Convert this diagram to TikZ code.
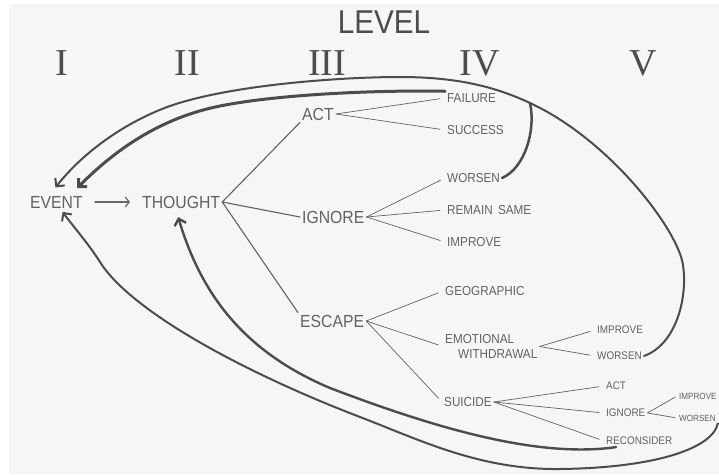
\documentclass[tikz,border=0pt]{standalone}
\usepackage{fontspec}
\setmainfont[FakeStretch=0.9]{Liberation Sans}
\newfontfamily\romanfont{Liberation Serif}
\usetikzlibrary{arrows.meta}
\definecolor{paper}{HTML}{F6F6F6}
\definecolor{ink}{HTML}{626262}
\definecolor{pencil}{HTML}{4C4C4C}

\begin{document}
\begin{tikzpicture}[x=1pt,y=-1pt,line cap=round,line join=round,
  lbl/.style={inner sep=2pt,anchor=west,text=ink},
  big/.style={lbl,font=\fontsize{17.5}{19}\selectfont},
  mid/.style={lbl,font=\fontsize{13}{15}\selectfont},
  sml/.style={lbl,font=\fontsize{11}{13}\selectfont},
  vsml/.style={lbl,font=\fontsize{9}{10}\selectfont},
  numeral/.style={text=pencil,font=\romanfont\fontsize{38}{40}\selectfont,anchor=base},
  stem/.style={draw=ink,line width=1.1pt},
  branch/.style={draw=ink,line width=0.7pt,shorten >=5pt},
  loopback/.style={draw=pencil,line width=2pt,-{Straight Barb[length=6pt,width=12pt]}}]
\useasboundingbox (0,0) rectangle (719,474);
\fill[paper] (9,4) rectangle (719,474);

\node[text=pencil,font=\fontsize{33}{36}\selectfont,anchor=base] (level) at (384,33) {LEVEL};
\foreach \n/\x in {I/62,II/187,III/327,IV/480,V/643}
  \node[numeral] (lv\n) at (\x,75) {\n};

% level I - III
\node[big] (event) at (28,202) {EVENT};
\node[big] (thought) at (140,202) {THOUGHT};
\node[big] (act) at (300,114) {ACT};
\node[big] (ignore) at (300,217) {IGNORE};
\node[big] (escape) at (298,321) {ESCAPE};

% level IV
\node[mid] (failure) at (445,98) {FAILURE};
\node[mid] (success) at (445,130) {SUCCESS};
\node[mid] (worsen) at (445,178) {WORSEN};
\node[mid] (same) at (445,210) {REMAIN\, SAME};
\node[mid] (improve) at (445,242) {IMPROVE};
\node[mid] (geo) at (443,291) {GEOGRAPHIC};
\node[mid,align=left] (emo) at (443,346.5) {EMOTIONAL\\\hspace*{13pt}WITHDRAWAL};
\node[mid] (suicide) at (442,402) {SUICIDE};

% level V
\node[sml] (ewimprove) at (595,330) {IMPROVE};
\node[sml] (ewworsen) at (595,356) {WORSEN};
\node[sml] (sact) at (604,386) {ACT};
\node[sml] (signore) at (604,413) {IGNORE};
\node[sml] (reconsider) at (604,441) {RECONSIDER};
\node[vsml] (simprove) at (677,396) {IMPROVE};
\node[vsml] (sworsen) at (677,418) {WORSEN};

\draw[pencil!85,line width=1.2pt,-{Straight Barb[length=4pt,width=10pt]},shorten <=10pt,shorten >=10pt] (event) -- (thought);

\draw[stem] (thought.east) -- (act.south west);
\draw[stem] (thought.east) -- (ignore.west);
\draw[stem] (thought.east) -- (escape.north west);
\foreach \b in {failure,success}
  \draw[branch] (act.east) -- (\b.west);
\foreach \b in {worsen,same,improve}
  \draw[branch] (ignore.east) -- (\b.west);
\foreach \b in {geo,emo,suicide}
  \draw[branch] (escape.east) -- (\b.west);
\foreach \b in {ewimprove,ewworsen}
  \draw[branch] (emo.east) -- (\b.west);
\foreach \b in {sact,signore,reconsider}
  \draw[branch] (suicide.east) -- (\b.west);
\foreach \b in {simprove,sworsen}
  \draw[branch,shorten >=2pt] (signore.east) -- (\b.west);

% loops back to the start
\coordinate (merge) at (530,103);
\draw[loopback,shorten >=8pt] (ewworsen.east) .. controls (675,345) and (688,300) .. (683,265)
  .. controls (678,230) and (610,140) .. (merge)
  .. controls (498,88) and (460,77) .. (400,77)
  .. controls (340,77) and (230,85) .. (170,106)
  .. controls (128,121) and (85,150) .. ([xshift=-6pt]event.north);
\draw[pencil,line width=2.5pt] (worsen.east) .. controls (525,168) and (536,130) .. (merge);
\draw[loopback,line width=3pt,shorten >=8pt] (failure.north west) .. controls (380,90) and (280,94) .. (220,106)
  .. controls (160,118) and (115,150) .. ([xshift=15pt]event.north);
\draw[loopback,line width=2.4pt,shorten >=7pt] ([xshift=12pt]reconsider.south west) .. controls (540,458) and (440,430) .. (330,388)
  .. controls (240,350) and (200,290) .. ([xshift=-5pt]thought.south);
\draw[loopback,shorten >=2pt] (sworsen.south east) .. controls (712,450) and (650,468) .. (560,469)
  .. controls (480,470) and (420,440) .. (360,417)
  .. controls (240,371) and (130,310) .. (100,262)
  .. controls (88,243) and (72,225) .. ([xshift=5pt]event.south);
\end{tikzpicture}
\end{document}
